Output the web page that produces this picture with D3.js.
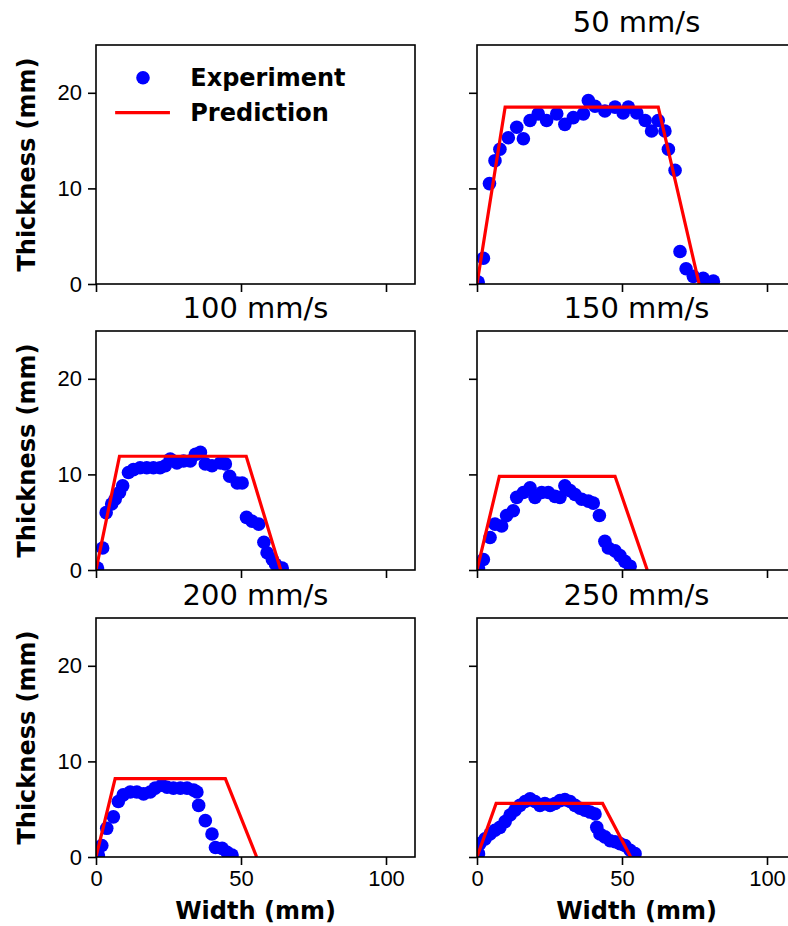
<!DOCTYPE html>
<html>
<head>
<meta charset="utf-8">
<script src="https://cdn.jsdelivr.net/npm/d3@7"></script>
<style>
	body { margin: 0; background: #fff; }
	svg { display: block; font-family: "DejaVu Sans", sans-serif; }
	.tick text { font-size: 22px; fill: #000; }
	.tick line { stroke: #000; stroke-width: 1.6px; }
	.domain { display: none; }
	.ptitle { font-size: 29px; }
	.axlabel { font-size: 24px; font-weight: bold; }
	.legend text { font-size: 24px; font-weight: bold; }
</style>
</head>
<body>
<svg id="chart"></svg>
<script>
// panel titles (speed), first panel only holds the legend
var titles = ["", "50 mm/s", "100 mm/s", "150 mm/s", "200 mm/s", "250 mm/s"];
var xTicks = [0, 50, 100];
var yTicks = [0, 10, 20];

// measured thickness profiles [width mm, thickness mm]
var exp50 = [[0.4,0.2],[2.2,2.7],[4.3,10.5],[6.2,12.9],[7.9,14.1],[10.8,15.3],[13.7,16.4],[16,15.2],[18.3,17.1],[21.1,17.8],[24,17.1],[27.5,17.8],[30.3,16.7],[33.2,17.4],[36.7,17.8],[38.4,19.2],[40.7,18.6],[44.1,18.1],[47.6,18.5],[50.4,17.9],[52.2,18.5],[55.1,17.9],[58,17.1],[60.2,16],[62.5,17.1],[64.8,16],[66,14.1],[68.3,11.9],[70,3.4],[72.1,1.6],[74.6,0.8],[78,0.6],[81.5,0.3]];
var exp100 = [[0.5,0.2],[2.3,2.3],[3.5,6],[5.4,6.9],[6.6,7.4],[8.1,8.1],[9.2,8.8],[11.2,10.2],[12.9,10.5],[15.2,10.7],[17.5,10.7],[19.8,10.7],[22.1,10.7],[23.9,10.9],[25.6,11.6],[27.9,11.2],[30.2,11.4],[32.5,11.4],[34.3,12.1],[36,12.3],[37.7,11.1],[40,10.9],[42.9,11.2],[44.6,11.1],[46.1,9.8],[48.7,9.1],[50.4,9.1],[51.9,5.5],[53.8,5.1],[56.1,4.8],[57.9,2.9],[59,1.8],[60.8,1.1],[61.9,0.6],[64.2,0.2]];
var exp150 = [[0.5,0.2],[2.2,1.1],[4.5,3.4],[6.2,4.8],[8.5,4.6],[10.2,5.7],[12.5,6.2],[13.7,7.6],[16,8.1],[18.3,8.6],[20,7.6],[22.3,8.1],[24.6,8.1],[26.9,7.7],[28.6,7.6],[30.3,8.8],[32.1,8.3],[33.8,7.9],[36.1,7.4],[38.4,7.2],[40.1,7],[42.2,5.7],[44.1,3],[45.3,2.3],[47.6,2],[49.3,1.5],[51,0.9],[52.8,0.4]];
var exp200 = [[0.8,0.2],[2,1.2],[3.7,3],[6,4.2],[7.7,5.8],[9.4,6.5],[11.8,6.8],[14.1,6.8],[16.4,6.6],[18.7,6.8],[20.4,7.2],[22.7,7.5],[24.5,7.3],[26.7,7.2],[29.1,7.2],[31.4,7.2],[33.7,7],[34.8,6.8],[35.4,5.4],[37.7,3.8],[40,2.4],[41.2,1],[43.5,0.9],[45.2,0.5],[46.9,0.2]];
var exp250 = [[0.5,0.35],[1,1.4],[2.8,1.9],[4.5,2.4],[6.2,2.8],[7.9,3.1],[9.7,3.7],[11.4,4.4],[13.1,4.9],[14.8,5.4],[16.6,5.8],[18.3,6.1],[20,5.8],[21.7,5.4],[23.4,5.6],[25.2,5.4],[26.9,5.6],[28.6,5.9],[30.3,6],[32.1,5.8],[33.8,5.4],[35.5,5.1],[37.2,4.9],[39,4.7],[40.7,4.5],[41.3,3.1],[42.4,2.4],[44.1,2.1],[45.9,1.7],[47.6,1.6],[49.3,1.4],[51,1.2],[52.8,0.7],[54.5,0.35]];

// model prediction (trapezoid)
var pred50 = [[0,0],[9.7,18.5],[62.5,18.5],[76.6,0]];
var pred100 = [[0,0],[8.1,11.9],[51.8,11.9],[63.7,0]];
var pred150 = [[0,0],[7.7,9.8],[47.6,9.8],[58.7,0]];
var pred200 = [[0,0],[6.6,8.2],[44.6,8.2],[55.4,0]];
var pred250 = [[0,0],[6.6,5.6],[43.3,5.6],[53,0]];

var experiments = [null, exp50, exp100, exp150, exp200, exp250];
var predictions = [null, pred50, pred100, pred150, pred200, pred250];

var W = 788, H = 926;
var colLeft = [96, 477], panelW = 319;
var rowTop = [45, 331, 618], panelH = 239;
var blue = "#0000ff", red = "#ff0000";

var svg = d3.select("#chart").attr("width", W).attr("height", H);

var x = d3.scaleLinear().domain([0, 110]).range([0, panelW]);
var y = d3.scaleLinear().domain([0, 25]).range([panelH, 0]);

var line = d3.line()
	.x(function(d) { return x(d[0]); })
	.y(function(d) { return y(d[1]); });

for (var i = 0; i < 6; i++) {
	var col = i % 2, row = Math.floor(i / 2);
	var g = svg.append("g")
		.attr("transform", "translate(" + colLeft[col] + "," + rowTop[row] + ")");

	g.append("clipPath").attr("id", "clip" + i)
		.append("rect").attr("width", panelW).attr("height", panelH);

	// axes: labels only on the outer panels
	var xAxis = d3.axisBottom(x).tickValues(xTicks).tickSize(8).tickPadding(5);
	if (row < 2) xAxis.tickFormat("");
	var yAxis = d3.axisLeft(y).tickValues(yTicks).tickSize(8).tickPadding(6);
	if (col == 1) yAxis.tickFormat("");

	g.append("g").attr("transform", "translate(0," + panelH + ")").call(xAxis);
	g.append("g").call(yAxis);

	var plot = g.append("g").attr("clip-path", "url(#clip" + i + ")");
	if (experiments[i]) {
		plot.selectAll("circle").data(experiments[i]).enter().append("circle")
			.attr("cx", function(d) { return x(d[0]); })
			.attr("cy", function(d) { return y(d[1]); })
			.attr("r", 6.8)
			.style("fill", blue);
		plot.append("path").datum(predictions[i])
			.attr("d", line)
			.style("fill", "none")
			.style("stroke", red)
			.style("stroke-width", 3.2)
			.style("stroke-linejoin", "miter");
	}

	// frame on top
	g.append("rect")
		.attr("width", panelW).attr("height", panelH)
		.style("fill", "none").style("stroke", "#000").style("stroke-width", 1.6);

	if (titles[i]) {
		g.append("text").attr("class", "ptitle")
			.attr("x", panelW / 2).attr("y", -13)
			.attr("text-anchor", "middle")
			.text(titles[i]);
	}
	if (col == 0) {
		g.append("text").attr("class", "axlabel")
			.attr("transform", "translate(-61," + (panelH / 2) + ") rotate(-90)")
			.attr("text-anchor", "middle")
			.text("Thickness (mm)");
	}
	if (row == 2) {
		g.append("text").attr("class", "axlabel")
			.attr("x", panelW / 2).attr("y", panelH + 62)
			.attr("text-anchor", "middle")
			.text("Width (mm)");
	}

	// legend in the empty first panel
	if (i == 0) {
		var lg = g.append("g").attr("class", "legend");
		lg.append("circle").attr("cx", x(16.2)).attr("cy", 32.7).attr("r", 6.8).style("fill", blue);
		lg.append("line")
			.attr("x1", x(6.6)).attr("x2", x(25.5))
			.attr("y1", 67.7).attr("y2", 67.7)
			.style("stroke", red).style("stroke-width", 3.2);
		lg.append("text").attr("x", x(32.5)).attr("y", 40.5).text("Experiment");
		lg.append("text").attr("x", x(32.5)).attr("y", 75.5).text("Prediction");
	}
}
</script>
</body>
</html>
